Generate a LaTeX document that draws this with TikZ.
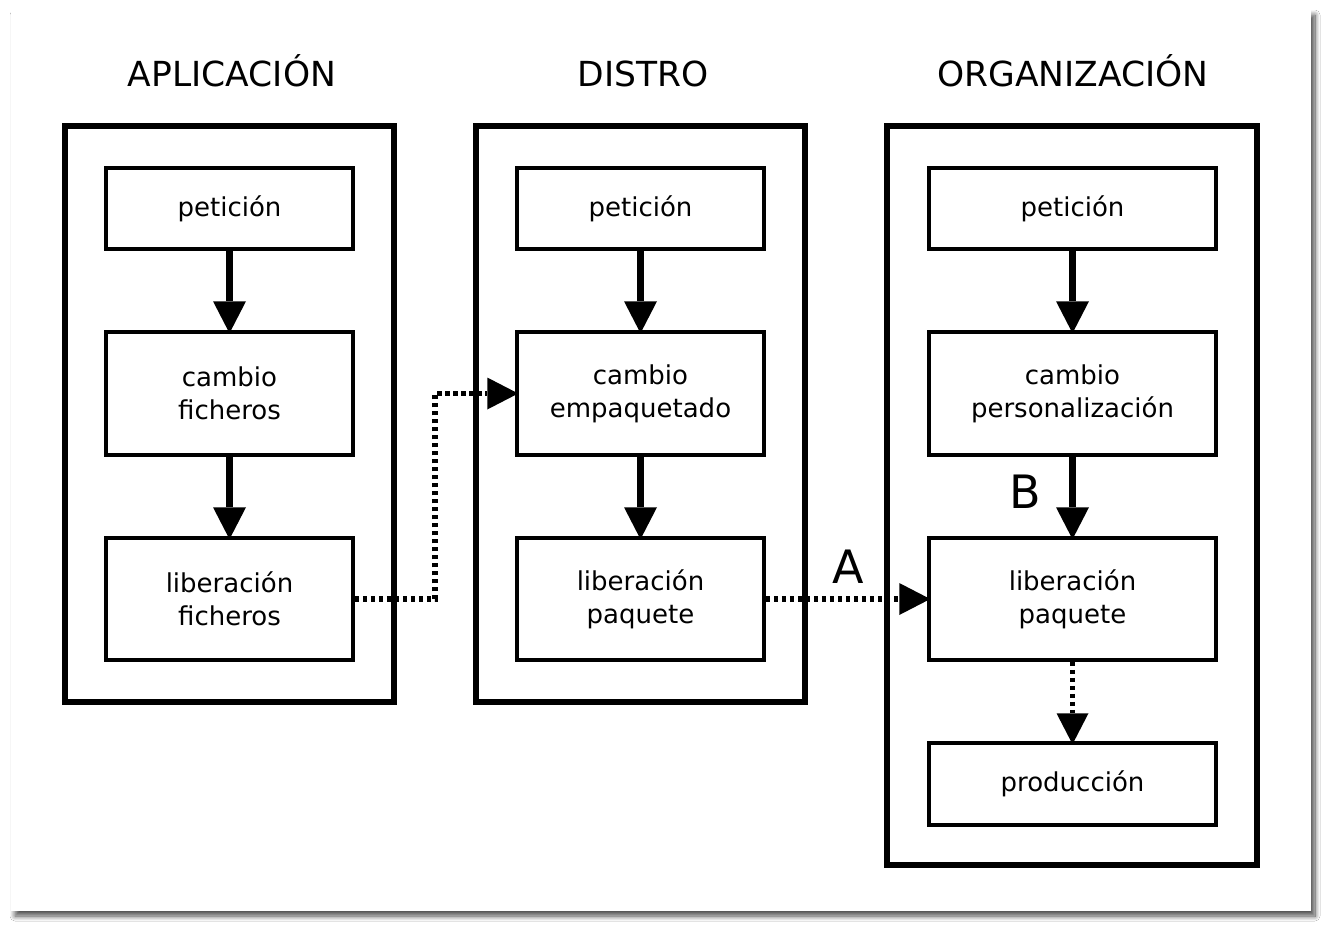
\documentclass[tikz,border=0pt]{standalone}
\usepackage{fontspec}
\setmainfont{DejaVu Sans}
\usetikzlibrary{arrows.meta,shadows.blur}
\tikzset{
  outerbox/.style={draw, line width=5.5pt, minimum width=#1, inner sep=0pt},
  innerbox/.style={draw, line width=3.5pt, minimum width=#1, align=center, inner sep=0pt,
     font=\fontsize{26}{33}\selectfont},
  title/.style={font=\fontsize{34.5}{38}\selectfont, inner sep=0pt, anchor=base},
  biglabel/.style={font=\fontsize{46}{50}\selectfont, inner sep=0pt},
  solidarrow/.style={line width=7pt, -{Triangle[length=32pt,width=33pt,line width=0pt,fill=black]}, shorten >=-3pt},
  dotarrow/.style={line width=5.5pt, dash pattern=on 4.5pt off 3.5pt, -{Triangle[length=31pt,width=32pt,line width=0pt,fill=black]}, shorten >=-3pt}
}
\begin{document}
\begin{tikzpicture}[x=1pt,y=-1pt]
\useasboundingbox (0,0) rectangle (1330,930);
\fill[white] (0,0) rectangle (1330,930);
\fill[white, blur shadow={shadow xshift=4pt, shadow yshift=-5pt, shadow blur radius=5pt, shadow blur steps=12, shadow opacity=70}] (11,10) rectangle (1311,911);

% titles
\node[title] (t1) at (232,86) {APLICACIÓN};
\node[title] (t2) at (643,86) {DISTRO};
\node[title] (t3) at (1073,86) {ORGANIZACIÓN};

% outer boxes
\node[outerbox=329pt, minimum height=576pt] (o1) at (229.5,414) {};
\node[outerbox=329pt, minimum height=576pt] (o2) at (640.5,414) {};
\node[outerbox=370pt, minimum height=739pt] (o3) at (1072,495.5) {};

% APLICACION
\node[innerbox=247pt, minimum height=81pt] (a1) at (229.5,208.5) {petición};
\node[innerbox=247pt, minimum height=123pt] (a2) at (229.5,393.5) {cambio\\ficheros};
\node[innerbox=247pt, minimum height=122pt] (a3) at (229.5,599) {liberación\\ficheros};

% DISTRO
\node[innerbox=247pt, minimum height=81pt] (d1) at (640.5,208.5) {petición};
\node[innerbox=247pt, minimum height=123pt] (d2) at (640.5,393.5) {cambio\\empaquetado};
\node[innerbox=247pt, minimum height=122pt] (d3) at (640.5,599) {liberación\\paquete};

% ORGANIZACION
\node[innerbox=287pt, minimum height=81pt] (g1) at (1072.5,208.5) {petición};
\node[innerbox=287pt, minimum height=123pt] (g2) at (1072.5,393.5) {cambio\\personalización};
\node[innerbox=287pt, minimum height=122pt] (g3) at (1072.5,599) {liberación\\paquete};
\node[innerbox=287pt, minimum height=82pt] (g4) at (1072.5,784) {producción};

% solid arrows
\draw[solidarrow] (a1.south) -- (a2.north);
\draw[solidarrow] (a2.south) -- (a3.north);
\draw[solidarrow] (d1.south) -- (d2.north);
\draw[solidarrow] (d2.south) -- (d3.north);
\draw[solidarrow] (g1.south) -- (g2.north);
\draw[solidarrow] (g2.south) -- (g3.north);

% dotted arrows
\coordinate (k1) at (435,599);
\coordinate (k2) at (435,393.5);
\draw[dotarrow] (a3.east) -- (k1) -- (k2) -- (d2.west);
\draw[dotarrow] (d3.east) -- (g3.west);
\draw[dotarrow] (g3.south) -- (g4.north);

% labels
\node[biglabel] (la) at (848,567) {A};
\node[biglabel] (lb) at (1025,492) {B};
\end{tikzpicture}
\end{document}
